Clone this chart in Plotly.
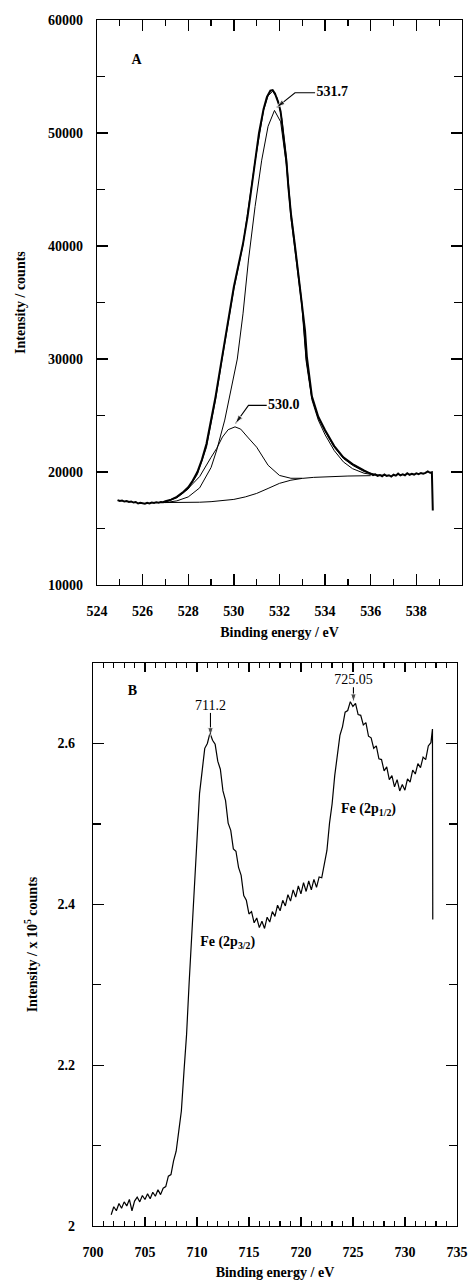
import plotly.graph_objects as go

# ---------------- Panel A : O 1s ----------------
a_data_e = [524.9, 525.0, 525.1, 525.2, 525.3, 525.4, 525.5, 525.6, 525.7, 525.8, 525.9,
            526.0, 526.1, 526.2, 526.3, 526.4, 526.5, 526.6, 526.7, 526.8, 526.9, 527.0,
            527.25, 527.5, 527.75, 528.0, 528.2, 528.4, 528.6, 528.8, 529.0, 529.2, 529.47,
            529.75, 530.0, 530.2, 530.4, 530.6, 530.8, 530.93, 531.1, 531.3, 531.45, 531.6,
            531.7, 531.8, 531.95, 532.05, 532.17, 532.3, 532.39, 532.5, 532.68, 532.8, 532.98,
            533.12, 533.2, 533.42, 533.7, 534.0, 534.4, 534.8, 535.2, 535.5, 535.7, 536.0,
            536.1, 536.2, 536.3, 536.4, 536.5, 536.6, 536.7, 536.8, 536.9, 537.0, 537.1,
            537.2, 537.3, 537.4, 537.5, 537.6, 537.7, 537.8, 537.9, 538.0, 538.1, 538.2,
            538.3, 538.4, 538.5, 538.6, 538.68, 538.72]
a_data_i = [17520, 17440, 17480, 17390, 17430, 17350, 17400, 17300, 17350, 17220, 17290,
            17240, 17200, 17280, 17230, 17300, 17260, 17320, 17290, 17340, 17330, 17420,
            17560, 17800, 18180, 18660, 19250, 20000, 21100, 22500, 24500, 26700, 30000,
            33400, 36400, 38300, 40200, 42600, 45600, 47600, 50000, 52100, 53200, 53750,
            53800, 53500, 52700, 51900, 50000, 47600, 45200, 42900, 40000, 37900, 35000,
            32500, 30200, 26700, 24900, 23700, 22300, 21300, 20700, 20350, 20150, 19850,
            19720, 19800, 19660, 19740, 19620, 19780, 19650, 19720, 19600, 19760, 19680,
            19860, 19700, 19800, 19720, 19900, 19760, 19850, 19780, 19890, 19820, 19920,
            19850, 19930, 20060, 19940, 19980, 16600]

a_env_e = [527.0, 527.5, 528.0, 528.4, 528.8, 529.2, 529.47, 530.0, 530.4, 530.93, 531.3,
           531.5, 531.7, 531.9, 532.1, 532.3, 532.5, 532.68, 532.98, 533.17, 533.42, 533.7,
           534.0, 534.4, 534.8, 535.2, 535.7, 536.3, 536.8]
a_env_i = [17350, 17720, 18500, 19800, 22200, 26400, 29800, 36200, 40100, 47500, 52000,
           53300, 53700, 53100, 51300, 47800, 43000, 40000, 35000, 30000, 26600, 24800,
           23600, 22200, 21200, 20600, 20050, 19750, 19700]

a_c1_e = [527.0, 527.5, 528.0, 528.5, 529.0, 529.25, 529.6, 529.9, 530.15, 530.4, 530.64,
          530.93, 531.22, 531.5, 531.78, 532.05, 532.3, 532.5, 532.68, 532.98, 533.17,
          533.42, 533.7, 534.0, 534.4, 534.8, 535.2, 535.7, 536.3]
a_c1_i = [17300, 17450, 17800, 18600, 20400, 21950, 24600, 27500, 30000, 34000, 38760,
          43500, 47600, 50600, 52000, 51000, 47200, 42500, 39600, 34700, 29800,
          26400, 24600, 23300, 21900, 20900, 20300, 19900, 19700]

a_c2_e = [527.0, 527.5, 528.0, 528.5, 529.0, 529.25, 529.5, 529.75, 530.05, 530.3, 530.6,
          531.0, 531.5, 532.0, 532.5, 533.0]
a_c2_i = [17350, 17800, 18550, 19600, 21300, 22100, 23100, 23750, 24000, 23800, 23100,
          22200, 20600, 19700, 19450, 19450]

a_bg_e = [526.9, 527.5, 528.0, 528.5, 529.0, 529.5, 530.0, 530.5, 531.0, 531.5, 532.0,
          532.5, 533.0, 533.5, 534.0, 535.0, 536.0]
a_bg_i = [17300, 17300, 17310, 17330, 17380, 17450, 17580, 17800, 18110, 18550, 19000,
          19280, 19440, 19530, 19580, 19650, 19680]

# labels and leader arrows of panel A (label anchor, kinked leader)
a_lbl_text = ["A", "531.7", "530.0"]
a_lbl_e = [525.74, 533.62, 531.5]
a_lbl_i = [56460, 53570, 25900]
lead_5317_e = [533.56, 532.68, 531.88]
lead_5317_i = [53570, 53570, 52270]
lead_5300_e = [531.44, 530.64, 530.07]
lead_5300_i = [25900, 25900, 24300]

# ---------------- Panel B : Fe 2p ----------------
b_e = [701.75, 702.0, 702.25, 702.5, 702.75, 703.0, 703.25, 703.5, 703.75, 704.0, 704.25,
       704.5, 704.75, 705.0, 705.25, 705.5, 705.75, 706.0, 706.25, 706.5, 706.75, 707.0,
       707.25, 707.5, 707.75, 708.0, 708.25, 708.5, 708.75, 709.0, 709.25, 709.5, 709.75,
       710.0, 710.25, 710.5, 710.75, 711.0, 711.25, 711.5, 711.75, 712.0, 712.25, 712.5,
       712.75, 713.0, 713.25, 713.5, 713.75, 714.0, 714.25, 714.5, 714.75, 715.0, 715.25,
       715.5, 715.75, 716.0, 716.25, 716.5, 716.75, 717.0, 717.25, 717.5, 717.75, 718.0,
       718.25, 718.5, 718.75, 719.0, 719.25, 719.5, 719.75, 720.0, 720.25, 720.5, 720.75,
       721.0, 721.25, 721.5, 721.75, 722.0, 722.25, 722.5, 722.75, 723.0, 723.25, 723.5,
       723.75, 724.0, 724.25, 724.5, 724.75, 725.0, 725.25, 725.5, 725.75, 726.0, 726.25,
       726.5, 726.75, 727.0, 727.25, 727.5, 727.75, 728.0, 728.25, 728.5, 728.75, 729.0,
       729.25, 729.5, 729.75, 730.0, 730.25, 730.5, 730.75, 731.0, 731.25, 731.5, 731.75,
       732.0, 732.25, 732.5, 732.65, 732.68]
b_i = [2.014, 2.024, 2.019, 2.028, 2.022, 2.030, 2.025, 2.033, 2.019, 2.031, 2.036,
       2.030, 2.038, 2.033, 2.040, 2.034, 2.042, 2.037, 2.045, 2.039, 2.047, 2.049,
       2.062, 2.064, 2.081, 2.093, 2.118, 2.143, 2.192, 2.238, 2.303, 2.360, 2.433,
       2.486, 2.538, 2.566, 2.594, 2.600, 2.613, 2.604, 2.599, 2.578, 2.568, 2.541,
       2.529, 2.501, 2.492, 2.469, 2.466, 2.446, 2.436, 2.411, 2.405, 2.388, 2.391,
       2.377, 2.383, 2.371, 2.379, 2.370, 2.384, 2.378, 2.391, 2.385, 2.399, 2.392,
       2.405, 2.398, 2.412, 2.404, 2.418, 2.409, 2.423, 2.413, 2.427, 2.416, 2.429,
       2.418, 2.431, 2.421, 2.434, 2.433, 2.451, 2.467, 2.501, 2.525, 2.560, 2.582,
       2.610, 2.621, 2.639, 2.641, 2.652, 2.646, 2.650, 2.636, 2.635, 2.623, 2.626,
       2.609, 2.607, 2.594, 2.597, 2.581, 2.580, 2.566, 2.571, 2.555, 2.560, 2.546,
       2.555, 2.541, 2.549, 2.542, 2.556, 2.552, 2.567, 2.562, 2.575, 2.570, 2.583,
       2.580, 2.597, 2.601, 2.618, 2.381]

b_bold_text = ["B", "Fe (2p<sub>3/2</sub>)", "Fe (2p<sub>1/2</sub>)"]
b_bold_e = [703.8, 712.95, 726.5]
b_bold_i = [2.665, 2.353, 2.518]
b_peak_text = ["711.2", "725.05"]
b_peak_e = [711.3, 725.05]
b_peak_i = [2.646, 2.678]
lead_7112_e = [711.3, 711.3]
lead_7112_i = [2.638, 2.609]
lead_7250_e = [725.05, 725.05]
lead_7250_i = [2.670, 2.651]

FONT = "Liberation Serif"
bold14 = dict(family=FONT, size=14, color="black", weight="bold")
reg14 = dict(family=FONT, size=14, color="black")

fig = go.Figure()

def line(x, y, w, xa, ya):
    fig.add_trace(go.Scatter(x=x, y=y, mode="lines", line=dict(color="black", width=w),
                             xaxis=xa, yaxis=ya, showlegend=False))

def arrow(x, y, xa, ya):
    n = len(x)
    fig.add_trace(go.Scatter(x=x, y=y, mode="lines+markers",
                             line=dict(color="black", width=1.1),
                             marker=dict(symbol="arrow", angleref="previous",
                                         size=[0] * (n - 1) + [9], color="black"),
                             xaxis=xa, yaxis=ya, showlegend=False))

def texts(x, y, t, font, pos, xa, ya):
    fig.add_trace(go.Scatter(x=x, y=y, text=t, mode="text", textfont=font,
                             textposition=pos, cliponaxis=False,
                             xaxis=xa, yaxis=ya, showlegend=False))

line(a_bg_e, a_bg_i, 1.0, "x", "y")
line(a_c2_e, a_c2_i, 1.0, "x", "y")
line(a_c1_e, a_c1_i, 1.0, "x", "y")
line(a_env_e, a_env_i, 1.0, "x", "y")
line(a_data_e, a_data_i, 2.0, "x", "y")
arrow(lead_5317_e, lead_5317_i, "x", "y")
arrow(lead_5300_e, lead_5300_i, "x", "y")
texts(a_lbl_e[:1], a_lbl_i[:1], a_lbl_text[:1], bold14, "middle center", "x", "y")
texts(a_lbl_e[1:], a_lbl_i[1:], a_lbl_text[1:], bold14, "middle right", "x", "y")

line(b_e, b_i, 1.2, "x2", "y2")
arrow(lead_7112_e, lead_7112_i, "x2", "y2")
arrow(lead_7250_e, lead_7250_i, "x2", "y2")
texts(b_bold_e, b_bold_i, b_bold_text, bold14, "middle center", "x2", "y2")
texts(b_peak_e, b_peak_i, b_peak_text, reg14, "middle center", "x2", "y2")

def ax(**kw):
    d = dict(showline=True, linecolor="black", linewidth=1.3, automargin=False,
             ticks="inside", tickcolor="black", tickwidth=1.3, showgrid=False,
             zeroline=False, tickfont=bold14, mirror="allticks")
    d.update(kw)
    return d

fig.update_layout(
    width=472, height=1285, margin=dict(l=0, r=0, t=0, b=0),
    paper_bgcolor="white", plot_bgcolor="white", showlegend=False, hovermode=False,
    xaxis=ax(domain=[0.2055, 0.9788], range=[524, 540], anchor="y",
             tickmode="linear", tick0=524, dtick=2, ticklen=11,
             minor=dict(dtick=1, ticklen=6, ticks="inside", tickcolor="black", tickwidth=1.3),
             ticklabelstandoff=13,
             title=dict(text="Binding energy / eV", font=bold14, standoff=9)),
    yaxis=ax(domain=[0.5447, 0.9844], range=[10000, 60000], anchor="x",
             tickmode="linear", tick0=10000, dtick=10000, ticklen=11, tickformat="d",
             minor=dict(dtick=5000, ticklen=8, ticks="inside", tickcolor="black", tickwidth=1.3),
             ticklabelstandoff=10,
             title=dict(text="Intensity / counts", font=bold14, standoff=19)),
    xaxis2=ax(domain=[0.197, 0.968], range=[700, 735], anchor="y2",
              tickmode="linear", tick0=700, dtick=5, ticklen=9,
              minor=dict(dtick=1, ticklen=5, ticks="inside", tickcolor="black", tickwidth=1.3),
              ticklabelstandoff=13,
              title=dict(text="Binding energy / eV", font=bold14, standoff=8)),
    yaxis2=ax(domain=[0.0459, 0.4840], range=[2.0, 2.7], anchor="x2",
              tickmode="linear", tick0=2.0, dtick=0.2, ticklen=11,
              minor=dict(dtick=0.1, ticklen=8, ticks="inside", tickcolor="black", tickwidth=1.3),
              ticklabelstandoff=14,
              title=dict(text="Intensity / x 10<sup>5</sup> counts", font=bold14, standoff=16)),
)

fig.write_html("out.html", config={"displayModeBar": False, "staticPlot": True},
               post_script="document.body.style.margin='0';document.body.style.overflow='hidden';")
